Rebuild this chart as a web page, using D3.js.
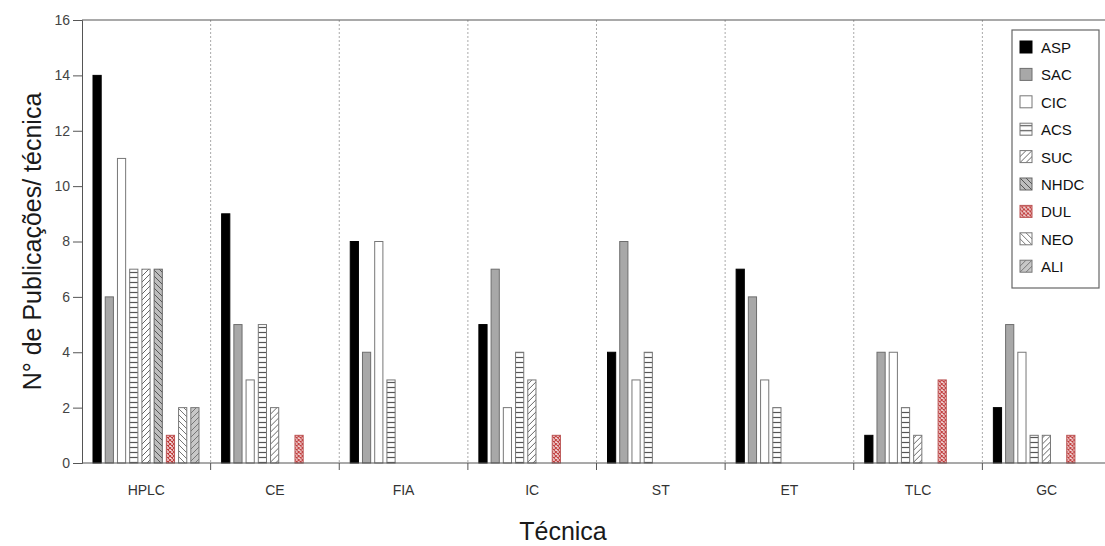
<!DOCTYPE html>
<html>
<head>
<meta charset="utf-8">
<script src="https://cdn.jsdelivr.net/npm/d3@7"></script>
<style>
  body { margin: 0; background: #fff; }
  svg { font-family: "Liberation Sans", Arial, sans-serif; }
</style>
</head>
<body>
<svg id="chart"></svg>
<script>
// categories (techniques) and series (sweeteners)
const techniques = ["HPLC", "CE", "FIA", "IC", "ST", "ET", "TLC", "GC"];
const sweeteners = ["ASP", "SAC", "CIC", "ACS", "SUC", "NHDC", "DUL", "NEO", "ALI"];

// values per sweetener, in the order of techniques
const ASP  = [14, 9, 8, 5, 4, 7, 1, 2];
const SAC  = [6, 5, 4, 7, 8, 6, 4, 5];
const CIC  = [11, 3, 8, 2, 3, 3, 4, 4];
const ACS  = [7, 5, 3, 4, 4, 2, 2, 1];
const SUC  = [7, 2, 0, 3, 0, 0, 1, 1];
const NHDC = [7, 0, 0, 0, 0, 0, 0, 0];
const DUL  = [1, 1, 0, 1, 0, 0, 3, 1];
const NEO  = [2, 0, 0, 0, 0, 0, 0, 0];
const ALI  = [2, 0, 0, 0, 0, 0, 0, 0];

const yTicks = [0, 2, 4, 6, 8, 10, 12, 14, 16];

const series = { ASP, SAC, CIC, ACS, SUC, NHDC, DUL, NEO, ALI };

const width = 1105, height = 546;
const margin = { top: 20, left: 82, bottom: 83 };
const plotRight = 1111;

const svg = d3.select('#chart')
    .attr('width', width)
    .attr('height', height);

// patterns
const defs = svg.append('defs');

function linePattern(id, bg, stroke, kind, size) {
  let p = defs.append('pattern')
      .attr('id', id)
      .attr('patternUnits', 'userSpaceOnUse')
      .attr('width', size)
      .attr('height', size);
  p.append('rect').attr('width', size).attr('height', size).attr('fill', bg);
  if (kind === 'h') {
    p.append('line').attr('x1', 0).attr('x2', size).attr('y1', size / 2).attr('y2', size / 2)
      .attr('stroke', stroke).attr('stroke-width', 1.2);
  } else if (kind === 'fwd') {
    p.append('path').attr('d', `M0,${size} L${size},0 M${-size / 2},${size / 2} L${size / 2},${-size / 2} M${size / 2},${size * 1.5} L${size * 1.5},${size / 2}`)
      .attr('stroke', stroke).attr('stroke-width', 1);
  } else if (kind === 'back') {
    p.append('path').attr('d', `M0,0 L${size},${size} M${size / 2},${-size / 2} L${size * 1.5},${size / 2} M${-size / 2},${size / 2} L${size / 2},${size * 1.5}`)
      .attr('stroke', stroke).attr('stroke-width', 1);
  } else if (kind === 'cross') {
    p.append('path').attr('d', `M0,0 L${size},${size} M${size},0 L0,${size}`)
      .attr('stroke', stroke).attr('stroke-width', 1.1);
  }
}

linePattern('pACS', '#fff', '#555', 'h', 5);
linePattern('pSUC', '#fff', '#666', 'fwd', 6);
linePattern('pNHDC', '#bdbdbd', '#555', 'back', 6);
linePattern('pDUL', '#f6e6e6', '#c03a3a', 'cross', 4);
linePattern('pNEO', '#fff', '#777', 'back', 6);
linePattern('pALI', '#c8c8c8', '#777', 'fwd', 6);

const style = {
  ASP:  { fill: '#000',        stroke: '#000' },
  SAC:  { fill: '#a8a8a8',     stroke: '#6e6e6e' },
  CIC:  { fill: '#fff',        stroke: '#777' },
  ACS:  { fill: 'url(#pACS)',  stroke: '#777' },
  SUC:  { fill: 'url(#pSUC)',  stroke: '#777' },
  NHDC: { fill: 'url(#pNHDC)', stroke: '#666' },
  DUL:  { fill: 'url(#pDUL)',  stroke: '#b55' },
  NEO:  { fill: 'url(#pNEO)',  stroke: '#777' },
  ALI:  { fill: 'url(#pALI)',  stroke: '#777' }
};

// scales
const x0 = d3.scaleBand()
    .domain(techniques)
    .range([margin.left, plotRight]);

const x1 = d3.scaleBand()
    .domain(sweeteners)
    .range([11, 117])
    .paddingInner(0.33);

const y = d3.scaleLinear()
    .domain([0, 16])
    .range([height - margin.bottom, margin.top]);

const g = svg.append('g');

// dotted dividers between groups
g.selectAll('line.div')
    .data(techniques.slice(1))
  .enter().append('line')
    .attr('class', 'div')
    .attr('x1', d => x0(d)).attr('x2', d => x0(d))
    .attr('y1', y(16)).attr('y2', y(0))
    .style('stroke', '#aaa')
    .style('stroke-dasharray', '2,2')
    .style('stroke-width', '1px');

// bars
const groups = g.selectAll('g.grp')
    .data(techniques)
  .enter().append('g')
    .attr('class', 'grp')
    .attr('transform', d => `translate(${x0(d)},0)`);

groups.selectAll('rect')
    .data((d, i) => sweeteners.map(s => ({ key: s, value: series[s][i] })).filter(d => d.value > 0))
  .enter().append('rect')
    .attr('x', d => x1(d.key))
    .attr('width', x1.bandwidth())
    .attr('y', d => y(d.value))
    .attr('height', d => y(0) - y(d.value))
    .style('fill', d => style[d.key].fill)
    .style('stroke', d => style[d.key].stroke)
    .style('stroke-width', '1px');

// y axis
const yAxis = d3.axisLeft(y).tickValues(yTicks).tickSize(9).tickPadding(3);
const ya = svg.append('g')
    .attr('transform', `translate(${margin.left},0)`)
    .call(yAxis);
ya.select('.domain').style('stroke', '#555');
ya.selectAll('.tick line').style('stroke', '#555');
ya.selectAll('.tick text').style('font-size', '14px').style('fill', '#444')
    .style('font-family', '"Liberation Sans", Arial, sans-serif');

// x axis: ticks at group boundaries
const xa = svg.append('g')
    .attr('transform', `translate(0,${y(0)})`);
xa.append('line')
    .attr('x1', margin.left).attr('x2', plotRight)
    .style('stroke', '#555').style('stroke-width', '1.2px');
xa.selectAll('line.tk')
    .data(techniques.slice(1))
  .enter().append('line')
    .attr('class', 'tk')
    .attr('x1', d => x0(d)).attr('x2', d => x0(d))
    .attr('y1', 0).attr('y2', 7)
    .style('stroke', '#555');
xa.selectAll('text')
    .data(techniques)
  .enter().append('text')
    .attr('x', d => x0(d) + x0.bandwidth() / 2)
    .attr('y', 32)
    .attr('text-anchor', 'middle')
    .style('font-size', '14px')
    .style('fill', '#333')
    .text(d => d);

// top frame line
svg.append('line')
    .attr('x1', margin.left).attr('x2', plotRight)
    .attr('y1', y(16)).attr('y2', y(16))
    .style('stroke', '#555').style('stroke-width', '1.2px');

// axis titles
svg.append('text')
    .attr('transform', `translate(41,${(y(0) + y(16)) / 2}) rotate(-90)`)
    .attr('text-anchor', 'middle')
    .style('font-size', '25px')
    .style('fill', '#1a1a1a')
    .text('N° de Publicações/ técnica');

svg.append('text')
    .attr('x', 563)
    .attr('y', 540)
    .attr('text-anchor', 'middle')
    .style('font-size', '25px')
    .style('fill', '#1a1a1a')
    .text('Técnica');

// legend
const legend = svg.append('g').attr('transform', 'translate(1012,30)');
legend.append('rect')
    .attr('width', 87).attr('height', 258)
    .style('fill', '#fff')
    .style('stroke', '#666')
    .style('stroke-width', '1.2px');

const items = legend.selectAll('g.item')
    .data(sweeteners)
  .enter().append('g')
    .attr('class', 'item')
    .attr('transform', (d, i) => `translate(8,${11 + i * 27.4})`);

items.append('rect')
    .attr('width', 12).attr('height', 12)
    .style('fill', d => style[d].fill)
    .style('stroke', d => style[d].stroke);

items.append('text')
    .attr('x', 21)
    .attr('y', 12)
    .style('font-size', '15px')
    .style('fill', '#111')
    .text(d => d);
</script>
</body>
</html>
